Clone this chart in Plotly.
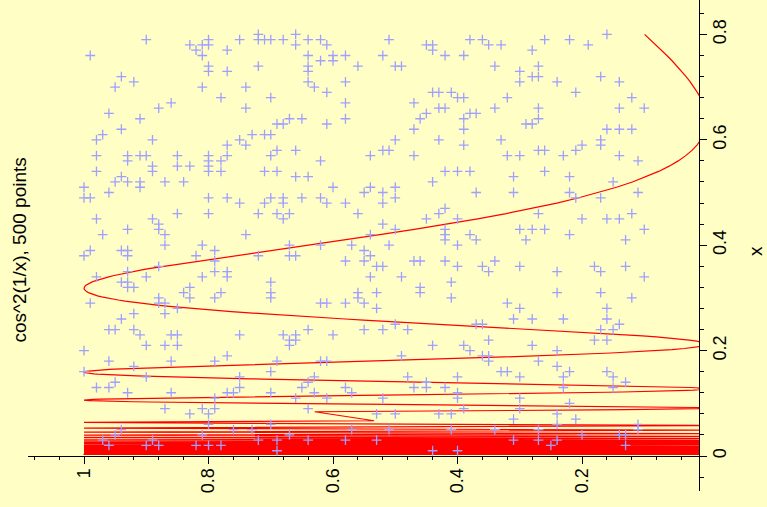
import numpy as np
import plotly.graph_objects as go

# ---- scatter data: 500 points on a 0.01 grid, grouped by x ----
cross_row_x = [
    0.80, 0.79, 0.78, 0.77, 0.76, 0.75, 0.74, 0.73, 0.72, 0.71, 0.70, 0.69, 0.68,
    0.67, 0.66, 0.65, 0.64, 0.63, 0.62, 0.61, 0.60, 0.59, 0.58, 0.57, 0.56, 0.55,
    0.54, 0.53, 0.52, 0.51, 0.50, 0.49, 0.48, 0.47, 0.46, 0.45, 0.44, 0.43, 0.42,
    0.41, 0.40, 0.39, 0.38, 0.37, 0.36, 0.35, 0.34, 0.33, 0.32, 0.31, 0.30, 0.29,
    0.28, 0.27, 0.26, 0.25, 0.24, 0.23, 0.22, 0.21, 0.20, 0.19, 0.18, 0.17, 0.16,
    0.15, 0.14, 0.13, 0.12, 0.11, 0.10, 0.09, 0.08, 0.07, 0.06, 0.05, 0.04, 0.03,
    0.02, 0.01,
]
cross_row_y = [
    [0.72, 0.66, 0.16],
    [0.90, 0.80, 0.75, 0.72, 0.71, 0.70, 0.68, 0.64, 0.62, 0.51, 0.38, 0.36, 0.26, 0.22],
    [0.83, 0.81, 0.80, 0.66, 0.61, 0.45, 0.44, 0.35, 0.33, 0.19],
    [0.82, 0.77, 0.44, 0.28],
    [0.99, 0.81, 0.64, 0.60, 0.58, 0.52, 0.42, 0.39],
    [0.62, 0.60],
    [0.80, 0.72, 0.64, 0.56, 0.50, 0.49, 0.34, 0.27],
    [0.80, 0.77, 0.64, 0.30],
    [0.94, 0.28, 0.27, 0.17],
    [0.92, 0.64, 0.58, 0.30, 0.24, 0.14],
    [0.95, 0.81, 0.74, 0.63],
    [0.61, 0.44, 0.43, 0.41, 0.21],
    [0.78, 0.70, 0.40, 0.39, 0.32, 0.12],
    [0.86, 0.58, 0.47],
    [0.88, 0.74, 0.43, 0.42, 0.34, 0.27, 0.14, 0.10],
    [0.96, 0.45, 0.38, 0.37],
    [0.91, 0.67, 0.65, 0.58, 0.46, 0.39, 0.27],
    [0.69, 0.68, 0.61, 0.29, 0.28],
    [0.94, 0.47, 0.39, 0.16, 0.14, 0.12],
    [0.97, 0.73, 0.71, 0.70],
    [0.98, 0.89, 0.75, 0.50, 0.43, 0.33, 0.17],
    [0.77, 0.74, 0.39, 0.20, 0.17],
    [0.69, 0.66, 0.52, 0.51, 0.27, 0.26, 0.21],
    [0.98, 0.93, 0.91, 0.90, 0.85, 0.80, 0.77, 0.70, 0.54, 0.47, 0.32, 0.30, 0.23, 0.14],
    [0.93, 0.80, 0.78, 0.62, 0.11],
    [0.89, 0.85, 0.83, 0.80],
    [0.98, 0.89, 0.80, 0.78, 0.71, 0.69, 0.42, 0.40, 0.38, 0.26],
    [0.94, 0.66, 0.64, 0.31, 0.22],
    [0.95, 0.93, 0.91, 0.87, 0.84, 0.44, 0.15],
    [1.00, 0.91, 0.60, 0.54, 0.50],
    [0.96, 0.55, 0.52, 0.37, 0.31, 0.22, 0.11],
    [1.00, 0.99, 0.80, 0.77, 0.70, 0.68, 0.65, 0.62, 0.50, 0.21, 0.17],
    [0.75, 0.71, 0.68, 0.61, 0.58, 0.52],
    [0.42],
    [0.85, 0.80, 0.72, 0.69, 0.67, 0.56, 0.43, 0.27, 0.12],
    [0.98, 0.89, 0.68, 0.45, 0.40, 0.20, 0.16, 0.14],
    [0.88, 0.52],
    [0.93, 0.88, 0.50, 0.42, 0.30, 0.28, 0.26, 0.10],
    [0.97, 0.87, 0.74, 0.54, 0.42, 0.38, 0.22],
    [0.42, 0.37, 0.29, 0.13],
    [0.87, 0.81, 0.67, 0.62, 0.57, 0.51, 0.40],
    [0.99, 0.94, 0.93, 0.79, 0.55],
    [1.00, 0.93, 0.82, 0.72, 0.67, 0.66, 0.54],
    [0.79, 0.58, 0.55, 0.47, 0.46, 0.42, 0.34],
    [0.88, 0.53, 0.52, 0.40, 0.36, 0.30, 0.18, 0.13],
    [0.93, 0.79, 0.77, 0.35, 0.24, 0.17],
    [0.98, 0.90, 0.81, 0.77, 0.54, 0.49, 0.10],
    [0.94, 0.93, 0.70, 0.41],
    [0.93, 0.92, 0.83, 0.46],
    [0.84, 0.78, 0.70, 0.56, 0.53, 0.46, 0.24, 0.17],
    [0.88, 0.83, 0.79, 0.70, 0.56, 0.41, 0.12],
    [0.99, 0.88, 0.87, 0.62, 0.61, 0.58, 0.55, 0.32],
    [0.85, 0.53, 0.30, 0.16],
    [0.92, 0.87],
    [0.94, 0.31, 0.28, 0.23, 0.16],
    [0.50, 0.37, 0.36, 0.14],
    [0.96, 0.95, 0.92, 0.64, 0.55, 0.52, 0.48, 0.17, 0.15],
    [0.91, 0.86, 0.85, 0.75, 0.68, 0.66, 0.60],
    [0.67, 0.66, 0.35, 0.18, 0.16],
    [0.90, 0.87, 0.85, 0.67, 0.44, 0.39, 0.28],
    [1.00, 0.38, 0.24],
    [0.77, 0.49, 0.36, 0.35],
    [0.96, 0.86, 0.79, 0.69, 0.62, 0.61, 0.35, 0.27],
    [0.92, 0.24],
    [1.00, 0.70, 0.33, 0.32, 0.22, 0.16],
    [0.90, 0.75, 0.63, 0.48, 0.40, 0.30, 0.23, 0.15],
    [0.95, 0.64, 0.45, 0.13],
    [0.98, 0.96, 0.75, 0.65, 0.58, 0.47, 0.45, 0.42, 0.23, 0.15],
    [0.93, 0.86, 0.77, 0.76, 0.70, 0.63, 0.57, 0.40],
    [0.79, 0.66, 0.61, 0.52, 0.40, 0.30],
    [0.22],
    [0.87, 0.81, 0.79, 0.64, 0.39, 0.30],
    [0.83, 0.80, 0.53, 0.50, 0.43, 0.41, 0.24],
    [0.31, 0.21],
    [0.80, 0.70, 0.24, 0.11],
    [0.94, 0.76, 0.73, 0.57, 0.51, 0.41, 0.34, 0.27, 0.11],
    [0.95, 0.81, 0.67, 0.20, 0.14, 0.13],
    [0.97, 0.89, 0.72, 0.69, 0.64, 0.58, 0.53, 0.31, 0.27, 0.24],
    [0.96, 0.90, 0.88, 0.82, 0.80, 0.78, 0.25, 0.13],
    [0.69, 0.44, 0.40],
]

# ---- sample abscissae of the curve y = cos^2(1/x) ----
smooth_x = np.concatenate([
    np.arange(0.80, 0.40, -0.01),
    np.arange(0.40, 0.20, -0.002),
    np.arange(0.20, 0.0839, -0.0005),
])
coarse_x = [0.08395, 0.06686]
band_k = np.arange(10, 301)            # samples falling on the extrema 2/(k*pi)
band_x = 2.0 / (band_k * np.pi)

curve_x = np.concatenate([smooth_x, coarse_x, band_x])
curve_y = np.cos(1.0 / curve_x) ** 2

cross_x = [rx for rx, ys in zip(cross_row_x, cross_row_y) for _ in ys]
cross_y = [v for ys in cross_row_y for v in ys]

BG = "#FFFEC4"
FONT = "Liberation Sans, Arial, Helvetica, sans-serif"

fig = go.Figure()
# the page is laid out in landscape: x runs upward, y runs leftward
fig.add_trace(go.Scatter(
    x=curve_y, y=curve_x, mode="lines",
    line=dict(color="#FF0000", width=1.2),
    hoverinfo="skip", showlegend=False,
))
fig.add_trace(go.Scatter(
    x=cross_y, y=cross_x, mode="markers",
    marker=dict(symbol="cross-thin", size=7,
                line=dict(color="#A0A0FF", width=1.3)),
    showlegend=False,
))

axis_common = dict(
    showline=True, linecolor="black", linewidth=1,
    ticks="outside", ticklen=7, tickwidth=1, tickcolor="black",
    dtick=0.2, tick0=0, tickangle=-90, ticklabelstandoff=-3,
    tickfont=dict(family=FONT, size=18, color="black"),
    showgrid=False, zeroline=False,
    minor=dict(dtick=0.04, tick0=0, ticks="outside", ticklen=3.5,
               tickwidth=1, tickcolor="black", showgrid=False),
)

fig.update_layout(
    width=767, height=507, autosize=False,
    margin=dict(l=28, r=68, t=0, b=16, pad=0),
    paper_bgcolor=BG, plot_bgcolor=BG,
    xaxis=dict(range=[1.09, 0.01205], anchor="free", position=0.0713,
               **axis_common),
    yaxis=dict(range=[-0.0664, 0.8653], side="right", **axis_common),
    annotations=[
        dict(text="cos^2(1/x), 500 points", textangle=-90,
             xref="paper", yref="paper", x=-0.0134, y=0.4898,
             xanchor="center", yanchor="middle", showarrow=False,
             font=dict(family=FONT, size=19, color="black")),
        dict(text="x", textangle=-90,
             xref="paper", yref="paper", x=1.0, xshift=57, y=0.4888,
             xanchor="center", yanchor="middle", showarrow=False,
             font=dict(family=FONT, size=19, color="black")),
    ],
)

fig.write_html("out.html")
